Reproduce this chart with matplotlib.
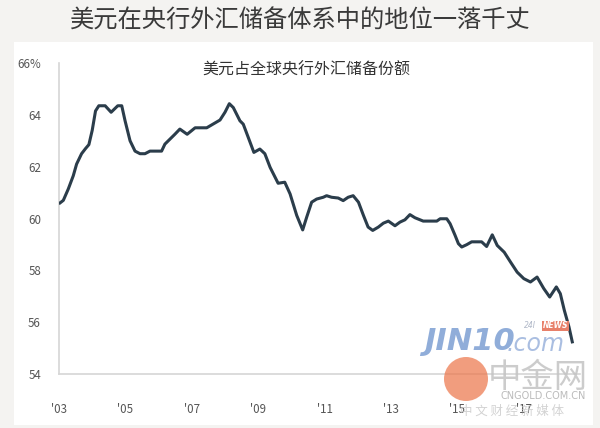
import numpy as np
import matplotlib.pyplot as plt
from matplotlib.patches import Rectangle, Circle

plt.rcParams['font.family'] = ['Noto Sans CJK SC', 'DejaVu Sans']

# data (year, USD share %)
years = [2003.03, 2003.13, 2003.28, 2003.43, 2003.53, 2003.68, 2003.80, 2003.90,
         2004.00, 2004.10, 2004.20, 2004.39, 2004.57, 2004.77, 2004.89, 2004.99,
         2005.14, 2005.29, 2005.44, 2005.59, 2005.74, 2006.09, 2006.19, 2006.34,
         2006.49, 2006.64, 2006.86, 2007.10, 2007.45, 2007.65, 2007.85, 2008.00,
         2008.13, 2008.25, 2008.45, 2008.55, 2008.70, 2008.87, 2009.05, 2009.20,
         2009.36, 2009.60, 2009.80, 2009.96, 2010.16, 2010.34, 2010.46, 2010.61,
         2010.76, 2010.96, 2011.06, 2011.21, 2011.41, 2011.56, 2011.71, 2011.86,
         2012.02, 2012.17, 2012.31, 2012.45, 2012.62, 2012.77, 2012.92, 2013.12,
         2013.27, 2013.42, 2013.57, 2013.72, 2013.97, 2014.38, 2014.48, 2014.68,
         2014.78, 2014.93, 2015.03, 2015.13, 2015.28, 2015.43, 2015.73, 2015.88,
         2016.05, 2016.20, 2016.41, 2016.60, 2016.80, 2017.00, 2017.20, 2017.40,
         2017.60, 2017.78, 2017.98, 2018.10, 2018.22, 2018.36, 2018.46]
share = [60.6, 60.7, 61.14, 61.65, 62.1, 62.5, 62.7, 62.85,
         63.4, 64.15, 64.35, 64.35, 64.1, 64.35, 64.35, 63.77,
         63.0, 62.6, 62.5, 62.5, 62.6, 62.6, 62.87, 63.06,
         63.25, 63.45, 63.25, 63.5, 63.5, 63.65, 63.8, 64.1,
         64.43, 64.28, 63.77, 63.64, 63.13, 62.55, 62.68, 62.5,
         61.97, 61.36, 61.4, 60.95, 60.12, 59.56, 60.05, 60.63,
         60.75, 60.82, 60.88, 60.82, 60.79, 60.69, 60.82, 60.88,
         60.63, 60.12, 59.67, 59.54, 59.67, 59.82, 59.9, 59.72,
         59.86, 59.95, 60.15, 60.03, 59.9, 59.9, 59.99, 59.99,
         59.8, 59.35, 59.03, 58.9, 58.99, 59.1, 59.1, 58.92,
         59.37, 58.96, 58.7, 58.32, 57.93, 57.68, 57.55, 57.74,
         57.3, 56.97, 57.36, 57.1, 56.46, 55.82, 55.24]

yticks = [54, 56, 58, 60, 62, 64, 66]
ytick_labels = ['54', '56', '58', '60', '62', '64', '66%']
xticks = [2003, 2005, 2007, 2009, 2011, 2013, 2015, 2017]
xtick_labels = ["'03", "'05", "'07", "'09", "'11", "'13", "'15", "'17"]

title = '美元在央行外汇储备体系中的地位一落千丈'
subtitle = '美元占全球央行外汇储备份额'

fig = plt.figure(figsize=(6, 4.28), dpi=100)
fig.patch.set_facecolor('#f4f3f1')

# background layer in pixel coords
bg = fig.add_axes([0, 0, 1, 1], zorder=0)
bg.set_xlim(0, 600)
bg.set_ylim(428, 0)
bg.axis('off')
bg.add_patch(Rectangle((14, 42), 579, 383, facecolor='white', edgecolor='none'))
bg.text(300, 21, title, ha='center', va='center', fontsize=17.5, color='#3a3a3a',
        fontweight='light')

ax = fig.add_axes([59/600, 1-374/428, 521/600, 311/428], zorder=1)
ax.set_facecolor('none')
ax.plot(years, share, color='#2b3d4b', lw=2.2, solid_joinstyle='round', zorder=3)

ax.set_xlim(2003, 2003 + 521/33.2)
ax.set_ylim(54, 66)
ax.set_yticks(yticks)
ax.set_yticklabels(ytick_labels)
ax.set_xticks(xticks)
ax.set_xticklabels(xtick_labels)
ax.tick_params(length=0, labelsize=8.3, labelcolor='#555555')
ax.tick_params(axis='y', pad=13)
ax.tick_params(axis='x', pad=21)
for s in ['top', 'right']:
    ax.spines[s].set_visible(False)
for s in ['left', 'bottom']:
    ax.spines[s].set_color('#d6d6d6')
    ax.spines[s].set_linewidth(1.2)

bg.text(306, 70, subtitle, ha='center', va='center', fontsize=11.5, color='#333333')

# watermarks on top, pixel coords
wm = fig.add_axes([0, 0, 1, 1], zorder=2)
wm.set_xlim(0, 600)
wm.set_ylim(428, 0)
wm.axis('off')
wm.text(424, 341, 'JIN10', fontsize=22, fontweight='bold', style='italic',
        color='#7d9fd3', alpha=0.85, va='center', family='DejaVu Sans')
wm.text(507, 344, '.com', fontsize=17, style='italic',
        color='#9bb3dc', alpha=0.85, va='center', family='DejaVu Sans')
wm.text(524, 326, '24I', fontsize=5.5, style='italic', color='#b0b8c8',
        va='center', family='DejaVu Sans')
wm.text(543, 326, 'NEWS', fontsize=5.5, fontweight='bold', style='italic',
        color='white', va='center', family='DejaVu Sans',
        bbox=dict(facecolor='#e8806a', edgecolor='none', pad=0.6))
wm.add_patch(Circle((466, 379), 22, facecolor='#ec7448', alpha=0.7, edgecolor='none'))
wm.text(538, 377, '中金网', fontsize=24, color='#c4c4c4', alpha=0.85,
        ha='center', va='center')
wm.text(543, 396, 'CNGOLD.COM.CN', fontsize=7, color='#bbbbbb',
        ha='center', va='center', family='DejaVu Sans')
wm.text(512, 411, '中 文 财 经 新 媒 体', fontsize=9, color='#c8c8c8', alpha=0.8,
        ha='center', va='center')

fig.savefig('out.png', dpi=100, facecolor=fig.get_facecolor())
